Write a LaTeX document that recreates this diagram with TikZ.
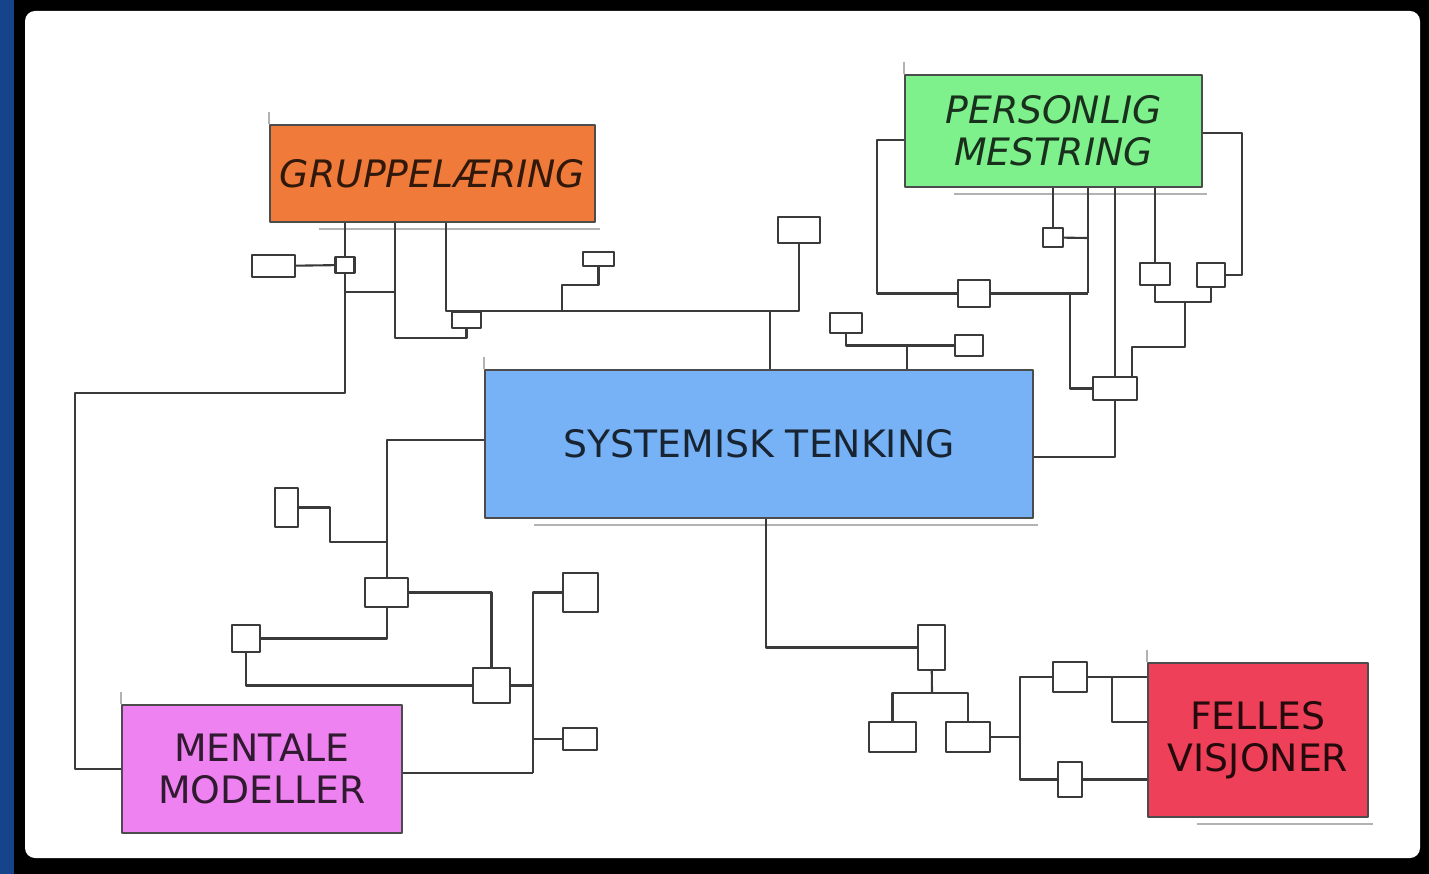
\documentclass[tikz,border=0pt]{standalone}
\usepackage{fontspec}
\setmainfont{DejaVu Sans}

\definecolor{frameblue}{RGB}{21,68,138}
\definecolor{orangefill}{RGB}{240,122,58}
\definecolor{greenfill}{RGB}{126,240,140}
\definecolor{bluefill}{RGB}{120,178,246}
\definecolor{pinkfill}{RGB}{238,130,240}
\definecolor{redfill}{RGB}{238,64,88}
\definecolor{wire}{RGB}{58,58,58}

\begin{document}
\begin{tikzpicture}[
    x=0.02cm,
    y=-0.02cm,
    color=wire,
    line width=1.2pt,
    line join=round,
    topic/.style={
        draw=black!70,
        line width=0.8pt,
        align=center,
        inner sep=0pt,
        font=\fontsize{21.5}{24}\selectfont,
    },
    sq/.style 2 args={
        draw,
        minimum width=#1*0.02cm,
        minimum height=#2*0.02cm,
        inner sep=0pt,
    },
    trace/.style={draw=black!30, line width=1pt},
]
    \fill[frameblue] (0,0) rectangle (14,874);
    \fill[black] (14,0) rectangle (1429,874);
    \fill[white, rounded corners=0.2cm] (25,11) rectangle (1420,858);

    \node[topic, fill=orangefill, text=black!80!orangefill, font=\fontsize{21.5}{24}\selectfont\itshape,
        minimum width=6.5cm, minimum height=1.94cm] (gl) at (432.5,173.5) {GRUPPELÆRING};
    \node[topic, fill=greenfill, text=black!80!greenfill, font=\fontsize{21.5}{24}\selectfont\itshape,
        minimum width=5.94cm, minimum height=2.24cm] (pm) at (1053.5,131) {PERSONLIG\\MESTRING};
    \node[topic, fill=bluefill, text=black!80!bluefill,
        minimum width=10.96cm, minimum height=2.96cm] (st) at (759,444) {SYSTEMISK TENKING};
    \node[topic, fill=pinkfill, text=black!80!pinkfill,
        minimum width=5.6cm, minimum height=2.56cm] (mm) at (262,769) {MENTALE\\MODELLER};
    \node[topic, fill=redfill, text=black!85!redfill,
        minimum width=4.4cm, minimum height=3.08cm] (fv) at (1258,740) {FELLES\\VISJONER};

    \draw[trace] ([xshift=1cm,yshift=-0.12cm]gl.south west) -- ([xshift=0.08cm,yshift=-0.12cm]gl.south east);
    \draw[trace] ([xshift=1cm,yshift=-0.12cm]pm.south west) -- ([xshift=0.08cm,yshift=-0.12cm]pm.south east);
    \draw[trace] ([xshift=1cm,yshift=-0.12cm]st.south west) -- ([xshift=0.08cm,yshift=-0.12cm]st.south east);
    \draw[trace] ([xshift=1cm,yshift=-0.12cm]fv.south west) -- ([xshift=0.08cm,yshift=-0.12cm]fv.south east);
    \draw[trace] ([yshift=0.25cm]gl.north west) -- (gl.north west);
    \draw[trace] ([yshift=0.25cm]pm.north west) -- (pm.north west);
    \draw[trace] ([yshift=0.25cm]st.north west) -- (st.north west);
    \draw[trace] ([yshift=0.25cm]mm.north west) -- (mm.north west);
    \draw[trace] ([yshift=0.25cm]fv.north west) -- (fv.north west);

    \node[sq={43}{22}] (a1) at (273.5,266) {};
    \node[sq={19}{16}] (a2) at (345,265) {};
    \node[sq={29}{16}] (a3) at (466.5,320) {};
    \node[sq={31}{14}] (a4) at (598.5,259) {};
    \node[sq={42}{26}] (a5) at (799,230) {};

    \node[sq={32}{27}] (b1) at (974,293.5) {};
    \node[sq={20}{19}] (b2) at (1053,237.5) {};
    \node[sq={30}{22}] (b3) at (1155,274) {};
    \node[sq={28}{24}] (b4) at (1211,275) {};
    \node[sq={44}{23}] (b5) at (1115,388.5) {};
    \node[sq={32}{20}] (c1) at (846,323) {};
    \node[sq={28}{21}] (c2) at (969,345.5) {};

    \node[sq={23}{39}] (d1) at (286.5,507.5) {};
    \node[sq={43}{29}] (d2) at (386.5,592.5) {};
    \node[sq={28}{27}] (d3) at (246,638.5) {};
    \node[sq={37}{35}] (d4) at (491.5,685.5) {};
    \node[sq={35}{39}] (d5) at (580.5,592.5) {};
    \node[sq={34}{22}] (d6) at (580,739) {};

    \node[sq={27}{45}] (e1) at (931.5,647.5) {};
    \node[sq={47}{30}] (e2) at (892.5,737) {};
    \node[sq={44}{30}] (e3) at (968,737) {};
    \node[sq={34}{30}] (e4) at (1070,677) {};
    \node[sq={24}{35}] (e5) at (1070,779.5) {};

    \coordinate (j1) at (345,393);
    \coordinate (jL) at (75,393);
    \coordinate (j2) at (345,292);
    \coordinate (j3) at (395,338);
    \coordinate (j4) at (446,311);
    \coordinate (j5) at (562,311);
    \coordinate (j6) at (562,285);
    \coordinate (j7) at (770,311);

    \draw (gl.south -| a2) -- (a2);
    \draw (a2) -- (a1);
    \draw (a2) -- (j1) -- (jL) |- (mm.west);
    \draw (j2) -- (j2 -| j3);
    \draw (gl.south -| j3) -- (j3) -| (a3);
    \draw (gl.south -| j4) -- (j4) -| (a5);
    \draw (j5) -- (j6) -| (a4);
    \draw (j7) -- (j7 |- st.north);

    \coordinate (k1) at (877,140);
    \coordinate (k3) at (1088,293.5);
    \coordinate (k4) at (1088,238);
    \coordinate (k5) at (1070,293.5);
    \coordinate (k6) at (1242,133);
    \coordinate (k7) at (1185,302);
    \coordinate (k8) at (1185,347);
    \coordinate (k9) at (1132,347);
    \coordinate (k10) at (1115,457);
    \coordinate (k11) at (907,345.5);

    \draw (pm.west |- k1) -- (k1) |- (b1);
    \draw (b1) -- (k3);
    \draw (b2) -- (k4);
    \draw (pm.south -| k4) -- (k4) -- (k3);
    \draw (pm.south -| b2) -- (b2);
    \draw (k5) |- (b5);
    \draw (pm.south -| b5) -- (b5);
    \draw (pm.south -| b3) -- (b3);
    \draw (pm.east |- k6) -- (k6) |- (b4);
    \draw (b3) |- (k7) -| (b4);
    \draw (k7) -- (k8) -- (k9) -- (k9 |- b5.north);
    \draw (b5) -- (k10) -- (k10 -| st.east);
    \draw (c1) |- (c2);
    \draw (k11) -- (k11 |- st.north);

    \coordinate (m1) at (387,440);
    \coordinate (m2) at (330,507.5);
    \coordinate (m3) at (330,542);
    \coordinate (m4) at (387,638.5);
    \coordinate (m5) at (533,685.5);
    \coordinate (m6) at (533,592.5);
    \coordinate (m8) at (533,773);

    \draw (st.west |- m1) -- (m1) -- (m1 |- d2.north);
    \draw (d1) -- (m2) -- (m3) -- (m3 -| m1);
    \draw (d2) -| (d4);
    \draw (d2.south -| m4) -- (m4) -- (d3);
    \draw (d3) |- (d4);
    \draw (d4) -- (m5);
    \draw (d5) -- (m6) -- (m8);
    \draw (m8 |- d6) -- (d6);
    \draw (mm.east |- m8) -- (m8);

    \coordinate (n1) at (766,647.5);
    \coordinate (n2) at (932,693);
    \coordinate (n3) at (1020,737);
    \coordinate (n4) at (1112,677);
    \coordinate (n5) at (1112,722);

    \draw (st.south -| n1) -- (n1) -- (e1);
    \draw (e1) -- (n2);
    \draw (e2) |- (n2) -| (e3);
    \draw (e3) -- (n3);
    \draw (e4) -| (n3) |- (e5);
    \draw (e4) -- (e4 -| fv.west);
    \draw (n4) -- (n5) -- (n5 -| fv.west);
    \draw (e5) -- (e5 -| fv.west);
\end{tikzpicture}
\end{document}
